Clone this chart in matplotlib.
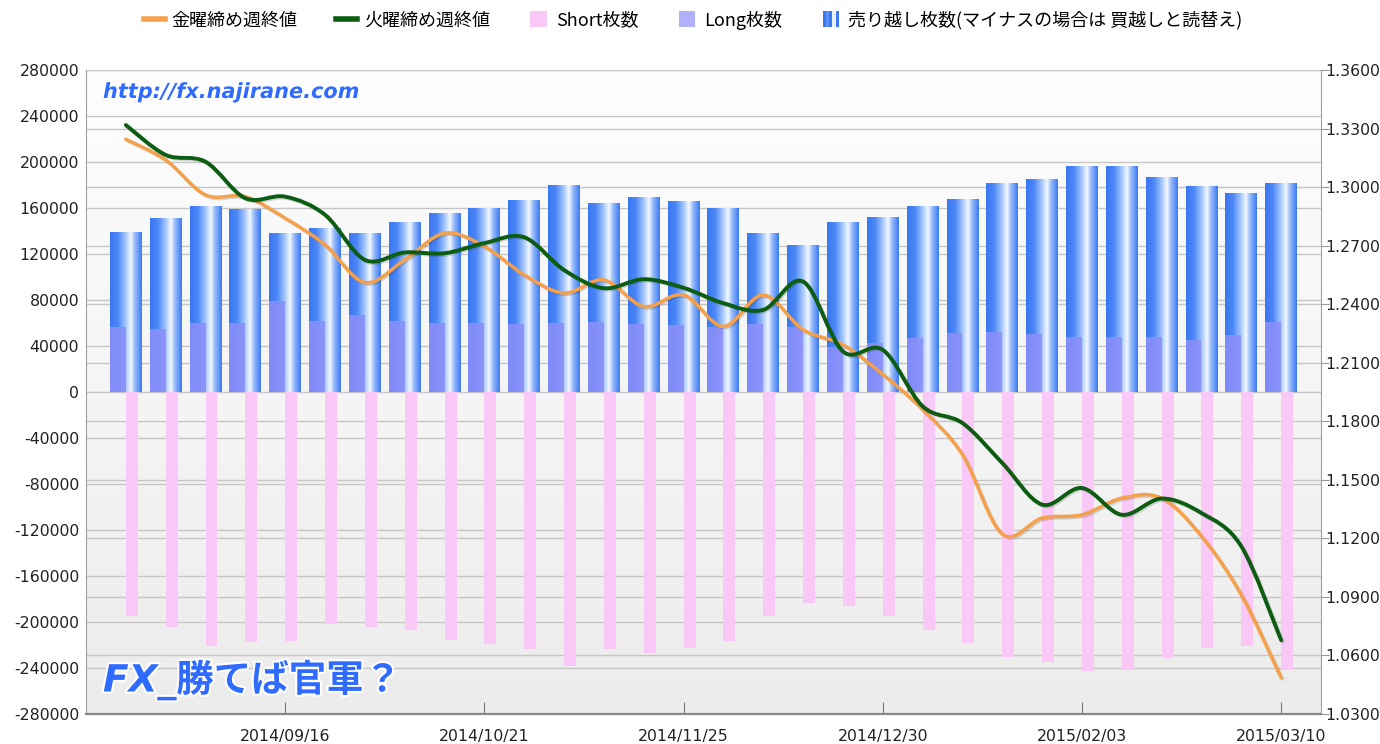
import numpy as np
import matplotlib
matplotlib.use("Agg")
import matplotlib.pyplot as plt
from matplotlib.path import Path
from matplotlib.patches import PathPatch, Rectangle, Patch
from matplotlib.lines import Line2D
from matplotlib.colors import LinearSegmentedColormap
from matplotlib.legend_handler import HandlerBase
from matplotlib.ticker import FuncFormatter
import matplotlib.patheffects as pe

plt.rcParams['font.family'] = ['Noto Sans CJK JP', 'DejaVu Sans']

# semaines (mardi)
weeks = ['2014/08/19', '2014/08/26', '2014/09/02', '2014/09/09', '2014/09/16',
         '2014/09/23', '2014/09/30', '2014/10/07', '2014/10/14', '2014/10/21',
         '2014/10/28', '2014/11/04', '2014/11/11', '2014/11/18', '2014/11/25',
         '2014/12/02', '2014/12/09', '2014/12/16', '2014/12/23', '2014/12/30',
         '2015/01/06', '2015/01/13', '2015/01/20', '2015/01/27', '2015/02/03',
         '2015/02/10', '2015/02/17', '2015/02/24', '2015/03/03', '2015/03/10']

short_cnt = [194800, 204400, 220900, 217400, 216500, 201700, 204400, 207000, 215700, 219100,
             223500, 238300, 223500, 227000, 222600, 216500, 194800, 183500, 186100, 194800,
             207000, 218300, 230400, 234800, 242600, 241700, 231300, 222600, 220900, 241700]

long_cnt = [56800, 54500, 60300, 60300, 79400, 61500, 67200, 61500, 60300, 60300,
            59100, 60300, 61200, 59100, 58000, 56800, 59100, 56800, 39400, 42900,
            46700, 51600, 52500, 50400, 48100, 48100, 48100, 45200, 49600, 61200]

net_short = [138500, 150700, 161700, 158300, 137400, 142300, 137400, 147200, 155400, 159700,
             166400, 180000, 164100, 169000, 165500, 159700, 138000, 127000, 147200, 151900,
             161700, 167800, 180900, 184400, 196500, 195700, 186100, 179100, 173000, 180900]

fri_close = [1.3245, 1.3139, 1.2960, 1.2951, 1.2841, 1.2704, 1.2511, 1.2627, 1.2764, 1.2696,
             1.2550, 1.2457, 1.2524, 1.2388, 1.2447, 1.2286, 1.2447, 1.2269, 1.2192, 1.2040,
             1.1860, 1.1629, 1.1222, 1.1304, 1.1321, 1.1406, 1.1406, 1.1211, 1.0910, 1.0486]

tue_close = [1.3318, 1.3165, 1.3130, 1.2943, 1.2951, 1.2858, 1.2627, 1.2665, 1.2661, 1.2713,
             1.2743, 1.2575, 1.2482, 1.2528, 1.2484, 1.2405, 1.2371, 1.2516, 1.2158, 1.2166,
             1.1877, 1.1791, 1.1586, 1.1373, 1.1458, 1.1321, 1.1404, 1.1330, 1.1159, 1.0678]

labels = ['金曜締め週終値', '火曜締め週終値', 'Short枚数', 'Long枚数',
          '売り越し枚数(マイナスの場合は 買越しと読替え)']

x = np.arange(len(weeks))

bar_cmap = LinearSegmentedColormap.from_list(
    'barre', [(0.0, '#3a78f2'), (0.25, '#4d88f6'), (0.5, '#a8c8fb'),
              (0.66, '#f4f8ff'), (0.78, '#9cbffa'), (1.0, '#3c7af4')])
bg_cmap = LinearSegmentedColormap.from_list('fond', ['#fefefe', '#ececec'])


def courbe(xs, ys):
    """ chemin lisse (Catmull-Rom -> Bezier) passant par les points """
    pts = np.column_stack([xs, ys]).astype(float)
    n = len(pts)
    verts = [pts[0]]
    codes = [Path.MOVETO]
    for i in range(n - 1):
        p0 = pts[i - 1] if i > 0 else pts[i]
        p1 = pts[i]
        p2 = pts[i + 1]
        p3 = pts[i + 2] if i + 2 < n else pts[i + 1]
        verts += [p1 + (p2 - p0) / 6.0, p2 - (p3 - p1) / 6.0, p2]
        codes += [Path.CURVE4] * 3
    return Path(verts, codes)


class HandlerCarre(HandlerBase):
    def __init__(self, couleurs):
        super().__init__()
        self.couleurs = couleurs

    def create_artists(self, legend, orig_handle, xdescent, ydescent,
                       width, height, fontsize, trans):
        cote = fontsize * 0.9
        x0 = -xdescent + (width - cote) / 2
        y0 = -ydescent + (height - cote) / 2
        n = len(self.couleurs)
        arts = []
        for k, c in enumerate(self.couleurs):
            arts.append(Rectangle((x0 + k * cote / n, y0), cote / n + 0.2, cote,
                                  facecolor=c, edgecolor='none', transform=trans))
        return arts


fig = plt.figure(figsize=(13.8, 7.44), dpi=100)
ax = fig.add_axes([86 / 1380, 30 / 744, 1235 / 1380, 644 / 744])
ax2 = ax.twinx()
ax.set_zorder(2)
ax2.set_zorder(1)
ax.patch.set_visible(False)

# fond degrade
ax2.imshow(np.linspace(0, 1, 256).reshape(-1, 1), extent=[0, 1, 0, 1],
           transform=ax2.transAxes, aspect='auto', cmap=bg_cmap, zorder=0)

# barres
hgrad = np.linspace(0, 1, 64).reshape(1, -1)
for xi, v in zip(x, net_short):
    ax.imshow(hgrad, extent=[xi - 0.4, xi + 0.4, 0, v], aspect='auto',
              cmap=bar_cmap, zorder=2, interpolation='bilinear')
ax.bar(x - 0.2, long_cnt, width=0.4, color='#8a8ff9', alpha=0.88, zorder=3)
ax.bar(x + 0.15, [-s for s in short_cnt], width=0.3, color='#fac8f6', zorder=3)

# courbes (axe de droite)
for serie, coul, lw in [(fri_close, '#f5a04a', 2.5), (tue_close, '#0c5c12', 2.8)]:
    p = PathPatch(courbe(x, serie), transform=ax2.transData, fill=False,
                  edgecolor=coul, lw=lw, zorder=5, capstyle='round', joinstyle='round',
                  path_effects=[pe.SimpleLineShadow(offset=(1, -1), alpha=0.15), pe.Normal()])
    ax.add_patch(p)

ax.set_xlim(-1, 30)
ax.set_ylim(-280000, 280000)
ax.set_yticks(np.arange(-280000, 280001, 40000))
ax.yaxis.set_major_formatter(FuncFormatter(lambda v, pos: str(int(v))))
ax.set_xticks(x[4::5])
ax.set_xticklabels(weeks[4::5])
ax2.set_ylim(1.03, 1.36)
ax2.set_yticks(np.arange(1.03, 1.3601, 0.03))
ax2.yaxis.set_major_formatter(FuncFormatter(lambda v, pos: '%.4f' % v))

ax.grid(axis='y', color='#c6c6c6', lw=1)
ax.set_axisbelow(True)
ax2.grid(axis='y', color='#c6c6c6', lw=1)

for etiq in ax.get_xticklabels() + ax.get_yticklabels() + ax2.get_yticklabels():
    etiq.set_family('DejaVu Sans')
ax.tick_params(axis='x', direction='in', length=9, color='#777777',
               labelsize=11.3, labelcolor='#222222', pad=11)
ax.tick_params(axis='y', length=0, labelsize=11.3, labelcolor='#222222', pad=5)
ax2.tick_params(axis='y', direction='out', length=6, color='#999999',
                labelsize=11.3, labelcolor='#222222', pad=-3)

ax.spines['top'].set_visible(False)
ax.spines['left'].set_color('#a0a0a0')
ax.spines['right'].set_color('#a0a0a0')
ax.spines['bottom'].set_color('#888888')
ax.spines['bottom'].set_linewidth(1.6)
for nom in ['top', 'left', 'bottom', 'right']:
    ax2.spines[nom].set_visible(False)

# legende
poignees = [Line2D([], [], color='#f5a04a', lw=4),
            Line2D([], [], color='#0c5c12', lw=4),
            Patch(color='#fac8f6'), Patch(color='#b0b0fb'), Patch(color='#4d88f6')]
fig.legend(poignees, labels, loc='center', bbox_to_anchor=(693 / 1380, 1 - 20 / 744),
           ncol=5, frameon=False, fontsize=13, handlelength=1.2, handletextpad=0.35,
           columnspacing=2.1,
           handler_map={poignees[2]: HandlerCarre(['#fac8f6']),
                        poignees[3]: HandlerCarre(['#b0b0fb']),
                        poignees[4]: HandlerCarre(['#3a78f2', '#5a92f7', '#3a78f2', '#e8f0ff', '#3c7af4'])})

# filigranes
fig.text(103 / 1380, 1 - 92 / 744, 'http://fx.najirane.com', color='#2f6bff',
         fontsize=15, fontweight='bold', fontstyle='italic', family=['DejaVu Sans'],
         va='center', ha='left', zorder=10,
         path_effects=[pe.withStroke(linewidth=3, foreground='white')])
fig.text(103 / 1380, 1 - 680 / 744, 'FX_勝てば官軍？', color='#2f6bff',
         fontsize=27, fontweight='bold', fontstyle='italic',
         family=['DejaVu Sans', 'Noto Sans CJK JP'],
         va='center', ha='left', zorder=10,
         path_effects=[pe.withStroke(linewidth=3, foreground='white')])

fig.savefig('out.png', dpi=100)
